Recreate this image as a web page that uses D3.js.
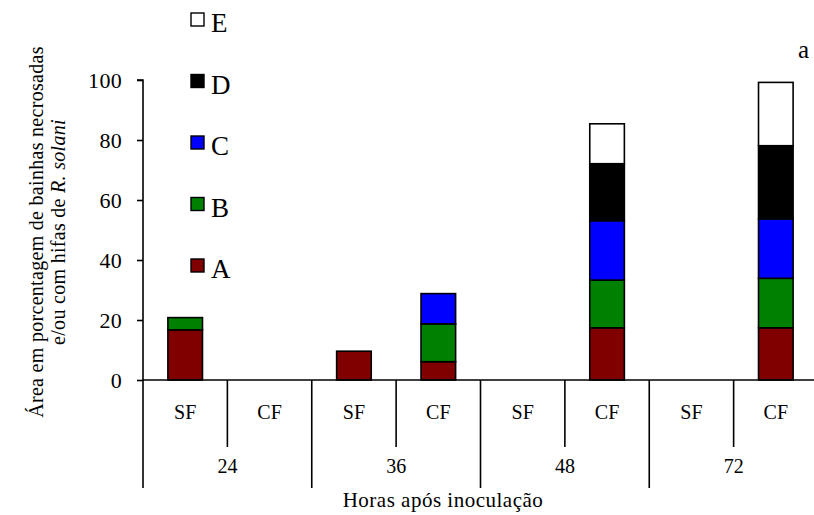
<!DOCTYPE html>
<html>
<head>
<meta charset="utf-8">
<script src="https://cdn.jsdelivr.net/npm/d3@7/dist/d3.min.js"></script>
<style>
  html, body { margin: 0; padding: 0; background: #fff; }
  svg { display: block; }
  svg text { font-family: "Liberation Serif", "Times New Roman", serif; fill: #000; }
</style>
</head>
<body>
<svg id="chart" width="814" height="515"></svg>
<script>
// Hours after inoculation (groups) and treatments within each group
const hours = ["24", "36", "48", "72"];
const treatments = ["SF", "CF"];
const classes = ["A", "B", "C", "D", "E"];
const classColors = ["#800000", "#008000", "#0000ff", "#000000", "#ffffff"];

// Percentage of area per severity class, one entry per hour/treatment bar
const valuesA = [16.7, 0, 9.6, 6.1, 0, 17.4, 0, 17.4];
const valuesB = [4.1, 0, 0, 12.6, 0, 15.9, 0, 16.5];
const valuesC = [0, 0, 0, 10.1, 0, 19.8, 0, 19.8];
const valuesD = [0, 0, 0, 0, 0, 19.0, 0, 24.4];
const valuesE = [0, 0, 0, 0, 0, 13.3, 0, 21.1];
const yTicks = [0, 20, 40, 60, 80, 100];

const bars = [];
hours.forEach((h, i) => treatments.forEach((t, j) => {
  const k = i * treatments.length + j;
  bars.push({ key: h + "-" + t, hour: h, treat: t,
    A: valuesA[k], B: valuesB[k], C: valuesC[k], D: valuesD[k], E: valuesE[k] });
}));

const svg = d3.select("#chart");
const plotLeft = 143, plotRight = 818, plotTop = 80, plotBottom = 380;
const serif = '"Liberation Serif", "Times New Roman", serif';

const x = d3.scaleBand().domain(bars.map(d => d.key)).range([plotLeft, plotRight]).paddingInner(0).paddingOuter(0);
const y = d3.scaleLinear().domain([0, 100]).range([plotBottom, plotTop]);

const stack = d3.stack().keys(classes)(bars);

// Stacked bars
const barW = x.bandwidth() * 0.41;
stack.forEach((layer, li) => {
  svg.append("g").selectAll("rect")
    .data(layer.filter(d => d[1] - d[0] > 0))
    .join("rect")
    .attr("x", d => x(d.data.key) + (x.bandwidth() - barW) / 2)
    .attr("y", d => y(d[1]))
    .attr("width", barW)
    .attr("height", d => y(d[0]) - y(d[1]))
    .attr("fill", classColors[li])
    .attr("stroke", "#000")
    .attr("stroke-width", 1.6);
});

// Y axis
const yAxis = d3.axisLeft(y).tickValues(yTicks).tickSize(6).tickPadding(15);
const gy = svg.append("g").attr("transform", `translate(${plotLeft},0)`).call(yAxis);
gy.attr("font-family", null).attr("font-size", null);
gy.select(".domain").attr("stroke", "#000").attr("stroke-width", 1.6).attr("d", `M-6,${plotTop}H0V${plotBottom}`);
gy.selectAll(".tick line").attr("stroke", "#000").attr("stroke-width", 1.6);
gy.selectAll(".tick text").style("font-family", serif).style("font-size", "22px")
  .style("letter-spacing", "0.3px").attr("dy", "0.34em");

// X axis baseline
svg.append("line").attr("x1", plotLeft).attr("x2", plotRight).attr("y1", plotBottom).attr("y2", plotBottom)
  .attr("stroke", "#000").attr("stroke-width", 1.6);

// Hierarchical category separators and labels
const gx = svg.append("g");
bars.forEach((d, k) => {
  const xl = x(d.key);
  const isGroupStart = k % treatments.length === 0;
  gx.append("line").attr("x1", xl).attr("x2", xl).attr("y1", plotBottom)
    .attr("y2", isGroupStart ? 488 : 447).attr("stroke", "#000").attr("stroke-width", 1.6);
  gx.append("text").attr("x", xl + x.bandwidth() / 2).attr("y", 419)
    .attr("text-anchor", "middle").style("font-size", "20px").text(d.treat);
});
gx.append("line").attr("x1", plotRight).attr("x2", plotRight).attr("y1", plotBottom).attr("y2", 488)
  .attr("stroke", "#000").attr("stroke-width", 1.6);
hours.forEach(h => {
  const x0 = x(h + "-" + treatments[0]);
  const x1 = x(h + "-" + treatments[treatments.length - 1]) + x.bandwidth();
  gx.append("text").attr("x", (x0 + x1) / 2).attr("y", 473)
    .attr("text-anchor", "middle").style("font-size", "20px").text(h);
});

// X axis title
svg.append("text").attr("x", 443).attr("y", 507).attr("text-anchor", "middle")
  .style("font-size", "21px").style("letter-spacing", "0.5px").text("Horas após inoculação");

// Y axis title (two lines, rotated)
const yt = svg.append("text").attr("transform", "translate(0,232) rotate(-90)")
  .attr("text-anchor", "middle").style("font-size", "20px").style("letter-spacing", "0.3px");
yt.append("tspan").attr("x", 0).attr("y", 43).text("Área em porcentagem de bainhas necrosadas");
const l2 = yt.append("tspan").attr("x", 0).attr("y", 65);
l2.append("tspan").text("e/ou com hifas de ");
l2.append("tspan").style("font-style", "italic").text("R. solani");

// Panel letter
svg.append("text").attr("x", 798).attr("y", 58).style("font-size", "25px").text("a");

// Legend, top-down from E to A
const legendOrder = classes.slice().reverse();
const lg = svg.append("g");
legendOrder.forEach((c, i) => {
  const yy = 13 + i * 61.5;
  lg.append("rect").attr("x", 191).attr("y", yy).attr("width", 13).attr("height", 13)
    .attr("fill", classColors[classes.indexOf(c)]).attr("stroke", "#000").attr("stroke-width", 1.4);
  lg.append("text").attr("x", 211).attr("y", yy + 19).style("font-size", "27px").text(c);
});
</script>
</body>
</html>
